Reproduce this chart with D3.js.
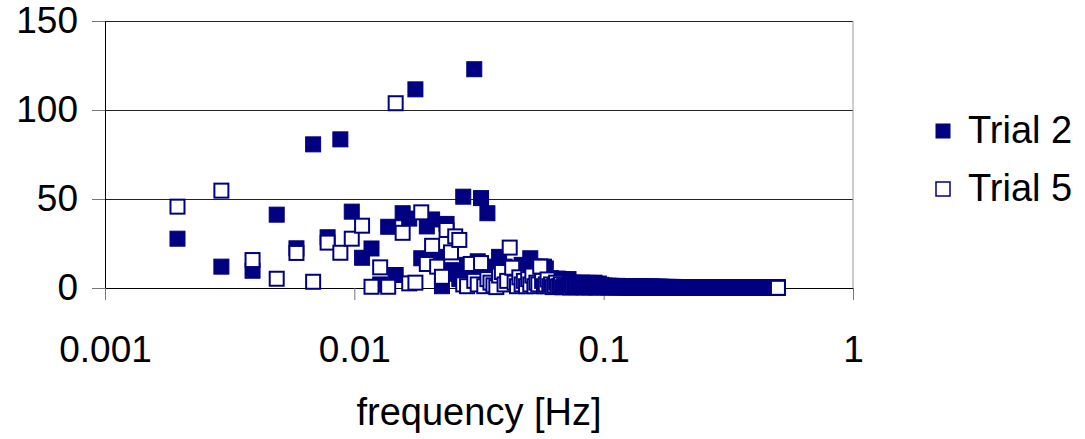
<!DOCTYPE html>
<html>
<head>
<meta charset="utf-8">
<script src="https://cdn.jsdelivr.net/npm/d3@7"></script>
<style>
  body { margin: 0; background: #fff; }
  svg { font-family: "Liberation Sans", Arial, sans-serif; }
</style>
</head>
<body>
<svg id="chart" width="1085" height="439"></svg>
<script>
// spectrum bins: f = bin / 1024 Hz, first plotted bin is 2
const firstBin = 2;
const binHz = 1 / 1024;

// Trial 2, bins 2..100
const trial2Low = [
  27.7, 12, 9.7, 41.2, 22.3, 80.7, 28.5, 83.5, 42.9, 17,
  22.2, 2, 34.4, 7.3, 42, 39, 111.6, 16.7, 34.6, 38.5,
  17.5, 1, 36, 10, 8, 5, 51.3, 13, 9, 122.9,
  15, 50.5, 8, 42, 12, 6, 10, 17.5, 8, 12,
  4, 7, 10, 5, 9, 3, 13, 8, 6, 11,
  16.7, 9, 12, 5, 8, 12, 10, 12, 11, 5,
  4, 5.5, 3, 5, 4, 5.3, 2, 4, 5, 3,
  4.5, 2, 5, 3, 2.5, 3, 1.5, 2.8, 2, 3,
  1.2, 2.5, 3, 1.8, 2.6, 1, 2.9, 2.2, 1.5, 2.7,
  1.3, 2.4, 3, 1.6, 2, 1.1, 2.5, 1.4, 1.8
];
// Trial 2, bins 101..512
const trial2Tail = [
  1.2,0.8,1.4,0.9,1.1,0.7,1.3,1.0,0.6,1.2,0.9,1.1,0.8,1.0,0.7,1.2,0.9,0.6,1.0,0.8,
  1.1,0.7,0.9,1.0,0.6,0.8,1.1,0.7,0.9,0.5,1.0,0.8,0.6,0.9,0.7,1.0,0.6,0.8,0.7,0.9,
  0.5,0.8,0.7,0.6,0.9,0.5,0.7,0.8,0.6,0.7,0.5,0.8,0.6,0.7,0.5,0.6,0.8,0.5,0.7,0.6,
  0.5,0.7,0.6,0.4,0.7,0.6,0.5,0.6,0.7,0.4,0.6,0.5,0.7,0.5,0.4,0.6,0.5,0.6,0.4,0.5,
  0.6,0.4,0.5,0.6,0.4,0.5,0.3,0.6,0.5,0.4,0.5,0.6,0.4,0.3,0.5,0.4,0.6,0.4,0.5,0.3,
  0.5,0.4,0.3,0.5,0.4,0.5,0.3,0.4,0.5,0.3,0.4,0.3,0.5,0.4,0.3,0.4,0.5,0.3,0.4,0.3,
  0.4,0.3,0.5,0.3,0.4,0.2,0.4,0.3,0.4,0.5,0.3,0.4,0.2,0.3,0.4,0.3,0.5,0.3,0.2,0.4,
  0.3,0.4,0.2,0.3,0.4,0.3,0.2,0.4,0.3,0.3,0.4,0.2,0.3,0.4,0.2,0.3,0.3,0.4,0.2,0.3,
  0.4,0.2,0.3,0.3,0.2,0.4,0.3,0.2,0.3,0.4,0.2,0.3,0.3,0.2,0.4,0.2,0.3,0.2,0.3,0.4,
  0.2,0.3,0.3,0.2,0.3,0.4,0.2,0.3,0.2,0.3,0.3,0.2,0.4,0.2,0.3,0.2,0.3,0.3,0.2,0.3,
  0.3,0.2,0.4,0.2,0.3,0.2,0.3,0.3,0.2,0.2,0.3,0.4,0.2,0.3,0.2,0.3,0.2,0.3,0.3,0.2,
  0.2,0.3,0.2,0.3,0.3,0.2,0.2,0.3,0.4,0.2,0.3,0.2,0.2,0.3,0.3,0.2,0.3,0.2,0.3,0.2,
  0.3,0.2,0.2,0.3,0.2,0.3,0.3,0.2,0.2,0.3,0.2,0.3,0.2,0.2,0.3,0.3,0.2,0.2,0.3,0.2,
  0.2,0.3,0.2,0.2,0.3,0.2,0.3,0.2,0.2,0.3,0.2,0.2,0.3,0.2,0.3,0.2,0.2,0.3,0.2,0.2,
  0.3,0.2,0.2,0.3,0.2,0.2,0.3,0.2,0.3,0.2,0.2,0.2,0.3,0.2,0.2,0.3,0.2,0.2,0.3,0.2,
  0.2,0.2,0.3,0.2,0.2,0.3,0.2,0.2,0.2,0.3,0.2,0.2,0.3,0.2,0.2,0.2,0.3,0.2,0.2,0.3,
  0.2,0.3,0.2,0.2,0.2,0.3,0.2,0.2,0.3,0.2,0.2,0.2,0.3,0.2,0.2,0.3,0.2,0.2,0.2,0.3,
  0.2,0.2,0.2,0.3,0.2,0.2,0.3,0.2,0.2,0.2,0.3,0.2,0.2,0.2,0.3,0.2,0.2,0.3,0.2,0.2,
  0.3,0.2,0.2,0.2,0.3,0.2,0.2,0.2,0.3,0.2,0.2,0.3,0.2,0.2,0.2,0.3,0.2,0.2,0.2,0.3,
  0.2,0.2,0.3,0.2,0.2,0.2,0.2,0.3,0.2,0.2,0.2,0.3,0.2,0.2,0.2,0.2,0.3,0.2,0.2,0.2,
  0.2,0.3,0.2,0.2,0.2,0.3,0.2,0.2,0.2,0.2,0.3,0.2
];

// Trial 5, bins 2..100
const trial5Low = [
  45.7, 54.7, 15.7, 5.2, 19.7, 3.5, 25.5, 19.8, 27.7, 35,
  0.7, 11.6, 0.7, 103.8, 31, 2.6, 3, 42.5, 13.5, 23.7,
  12, 6.3, 32.6, 20, 29, 27, 2, 1, 13.5, 4,
  2, 14, 1, 5, 3, 1.5, 0.5, 7, 9, 2,
  4, 22.7, 11.4, 3, 1, 6, 2, 4, 1, 5,
  2, 7, 1, 3, 2, 12, 4, 1, 2, 4.8,
  1, 2, 0.5, 1.5, 3, 0.8, 1.2, 2, 0.4, 1,
  1.8, 0.6, 1.1, 0.3, 1.4, 0.7, 1, 0.5, 1.2, 0.4,
  0.9, 1.3, 0.5, 0.8, 0.3, 1.1, 0.6, 0.9, 0.4, 0.7,
  1, 0.5, 0.8, 0.3, 0.6, 0.9, 0.4, 0.7, 0.5
];
// Trial 5, bins 101..512
const trial5Tail = [
  0.6,0.9,0.4,0.7,0.5,0.8,0.3,0.6,0.9,0.4,0.7,0.5,0.6,0.3,0.8,0.5,0.6,0.4,0.7,0.5,
  0.4,0.6,0.3,0.7,0.5,0.4,0.6,0.3,0.5,0.6,0.4,0.3,0.6,0.5,0.4,0.3,0.5,0.6,0.3,0.4,
  0.5,0.3,0.4,0.5,0.3,0.6,0.4,0.3,0.5,0.4,0.3,0.5,0.4,0.2,0.4,0.5,0.3,0.4,0.3,0.5,
  0.3,0.4,0.3,0.2,0.4,0.3,0.5,0.3,0.2,0.4,0.3,0.4,0.2,0.3,0.4,0.3,0.2,0.4,0.3,0.3,
  0.2,0.3,0.4,0.2,0.3,0.3,0.2,0.4,0.3,0.2,0.3,0.2,0.4,0.3,0.2,0.3,0.3,0.2,0.3,0.2,
  0.3,0.2,0.2,0.3,0.2,0.3,0.2,0.3,0.2,0.2,0.3,0.2,0.3,0.2,0.2,0.3,0.2,0.2,0.3,0.2,
  0.2,0.2,0.3,0.2,0.1,0.2,0.3,0.2,0.2,0.1,0.2,0.3,0.2,0.2,0.1,0.2,0.2,0.3,0.1,0.2,
  0.2,0.1,0.2,0.2,0.1,0.2,0.2,0.1,0.3,0.2,0.1,0.2,0.2,0.1,0.2,0.2,0.1,0.2,0.1,0.2,
  0.1,0.2,0.2,0.1,0.2,0.1,0.1,0.2,0.2,0.1,0.2,0.1,0.2,0.1,0.1,0.2,0.1,0.2,0.1,0.1,
  0.2,0.1,0.1,0.2,0.1,0.2,0.1,0.1,0.2,0.1,0.1,0.2,0.1,0.1,0.2,0.1,0.1,0.1,0.2,0.1,
  0.1,0.1,0.2,0.1,0.1,0.1,0.2,0.1,0.1,0.2,0.1,0.1,0.1,0.2,0.1,0.1,0.1,0.2,0.1,0.1,
  0.1,0.2,0.1,0.1,0.1,0.1,0.2,0.1,0.1,0.1,0.2,0.1,0.1,0.1,0.1,0.2,0.1,0.1,0.1,0.1,
  0.2,0.1,0.1,0.1,0.1,0.2,0.1,0.1,0.1,0.1,0.1,0.2,0.1,0.1,0.1,0.1,0.2,0.1,0.1,0.1,
  0.1,0.1,0.1,0.2,0.1,0.1,0.1,0.1,0.1,0.2,0.1,0.1,0.1,0.1,0.1,0.1,0.2,0.1,0.1,0.1,
  0.1,0.1,0.1,0.1,0.2,0.1,0.1,0.1,0.1,0.1,0.1,0.1,0.2,0.1,0.1,0.1,0.1,0.1,0.1,0.1,
  0.2,0.1,0.1,0.1,0.1,0.1,0.1,0.1,0.1,0.2,0.1,0.1,0.1,0.1,0.1,0.1,0.1,0.1,0.2,0.1,
  0.1,0.1,0.1,0.1,0.1,0.1,0.2,0.1,0.1,0.1,0.1,0.1,0.1,0.1,0.1,0.1,0.2,0.1,0.1,0.1,
  0.1,0.1,0.1,0.1,0.1,0.2,0.1,0.1,0.1,0.1,0.1,0.1,0.1,0.1,0.1,0.1,0.1,0.2,0.1,0.1,
  0.1,0.1,0.1,0.1,0.1,0.1,0.1,0.1,0.2,0.1,0.1,0.1,0.1,0.1,0.1,0.1,0.1,0.1,0.1,0.1,
  0.1,0.1,0.2,0.1,0.1,0.1,0.1,0.1,0.1,0.1,0.1,0.1,0.1,0.1,0.2,0.1,0.1,0.1,0.1,0.1,
  0.1,0.1,0.1,0.1,0.1,0.1,0.1,0.1,0.1,0.1,0.1,0.1
];

const seriesNames = ["Trial 2", "Trial 5"];
const xTicks = [0.001, 0.01, 0.1, 1];
const yTicks = [0, 50, 100, 150];

const navy = "#000080";
const svg = d3.select("#chart");

const plotLeft = 105, plotRight = 853, plotTop = 21, plotBottom = 288;
const x = d3.scaleLog().domain([0.001, 1]).range([plotLeft, plotRight]);
const y = d3.scaleLinear().domain([0, 150]).range([plotBottom, plotTop]);

const toPoints = (vals) => vals.map((v, i) => ({ f: (firstBin + i) * binHz, v: v }));
const trial2 = toPoints(trial2Low.concat(trial2Tail));
const trial5 = toPoints(trial5Low.concat(trial5Tail));

// 网格线
svg.append("g")
  .attr("transform", `translate(${plotLeft},0)`)
  .call(d3.axisLeft(y).tickValues(yTicks.slice(1)).tickSize(-(plotRight - plotLeft)).tickFormat(""))
  .call(g => g.select(".domain").remove())
  .selectAll("line").attr("stroke", "#222");

// 右边框
svg.append("line")
  .attr("x1", plotRight).attr("x2", plotRight).attr("y1", plotTop).attr("y2", plotBottom)
  .attr("stroke", "#999");

// y轴
const yAxis = svg.append("g")
  .attr("transform", `translate(${plotLeft},0)`)
  .call(d3.axisLeft(y).tickValues(yTicks).tickSize(13).tickSizeOuter(0).tickPadding(14));
yAxis.select(".domain").attr("stroke", "#000");
yAxis.selectAll(".tick line").attr("stroke", "#777");
yAxis.selectAll("text").attr("font-size", 37).attr("fill", "#000")
  .attr("font-family", "Liberation Sans, Arial, sans-serif");

// x轴
const xAxis = svg.append("g")
  .attr("transform", `translate(0,${plotBottom})`)
  .call(d3.axisBottom(x).tickValues(xTicks).tickFormat(d => String(d)).tickSize(12).tickSizeOuter(0).tickPadding(36));
xAxis.select(".domain").attr("stroke", "#000");
xAxis.selectAll(".tick line").attr("stroke", "#777");
xAxis.selectAll("text").attr("font-size", 37).attr("fill", "#000")
  .attr("font-family", "Liberation Sans, Arial, sans-serif");

// 数据点: Trial 2 实心, Trial 5 空心在上
svg.append("g").selectAll("rect")
  .data(trial2).join("rect")
  .attr("x", d => x(d.f) - 7.5).attr("y", d => y(d.v) - 7.5)
  .attr("width", 15).attr("height", 15)
  .attr("fill", navy).attr("stroke", navy).attr("stroke-width", 1);

svg.append("g").selectAll("rect")
  .data(trial5).join("rect")
  .attr("x", d => x(d.f) - 7).attr("y", d => y(d.v) - 7)
  .attr("width", 14).attr("height", 14)
  .attr("fill", "#fff").attr("stroke", navy).attr("stroke-width", 2);

// 坐标轴标题
svg.append("text")
  .attr("x", 479).attr("y", 425)
  .attr("text-anchor", "middle")
  .attr("font-size", 38)
  .text("frequency [Hz]");

// 图例
const legend = svg.append("g");
seriesNames.forEach((name, i) => {
  const cy = 131 + i * 58;
  legend.append("rect")
    .attr("x", 936).attr("y", cy - 7).attr("width", 14).attr("height", 14)
    .attr("fill", i === 0 ? navy : "#fff")
    .attr("stroke", navy).attr("stroke-width", i === 0 ? 1 : 1.5);
  legend.append("text")
    .attr("x", 968).attr("y", cy + 12)
    .attr("font-size", 38)
    .text(name);
});
</script>
</body>
</html>
